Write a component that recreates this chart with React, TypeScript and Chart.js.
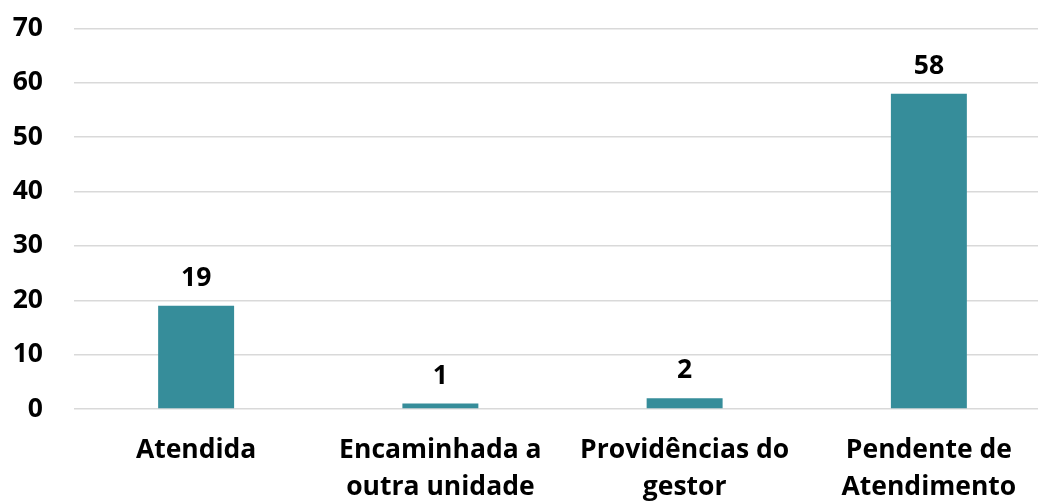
import React, { useEffect, useRef } from "react";
import { Chart, registerables } from "chart.js";

Chart.register(...registerables);

const categories: string[][] = [
  ["Atendida"],
  ["Encaminhada a", "outra unidade"],
  ["Providências do", "gestor"],
  ["Pendente de", "Atendimento"],
];
const values: number[] = [19, 1, 2, 58];
const yTicks: number[] = [0, 10, 20, 30, 40, 50, 60, 70];

const FONT = "'Open Sans', sans-serif";
const FSIZE = 26.5;
const BAR_COLOR = "#368D9A";

const valueLabels = {
  id: "valueLabels",
  afterDatasetsDraw(chart: any) {
    const ctx = chart.ctx;
    const meta = chart.getDatasetMeta(0);
    ctx.save();
    ctx.font = `bold ${FSIZE}px ${FONT}`;
    ctx.fillStyle = "#000000";
    ctx.textAlign = "center";
    ctx.textBaseline = "alphabetic";
    meta.data.forEach((bar: any, i: number) => {
      ctx.fillText(String(values[i]), bar.x, bar.y - 20);
    });
    ctx.restore();
  },
};

export default function App() {
  const ref = useRef<HTMLCanvasElement | null>(null);
  useEffect(() => {
    if (!ref.current) return;
    const chart = new Chart(ref.current, {
      type: "bar",
      data: {
        labels: categories,
        datasets: [
          {
            data: values,
            backgroundColor: BAR_COLOR,
            barPercentage: 0.311,
            categoryPercentage: 1,
          },
        ],
      },
      options: {
        animation: false,
        responsive: false,
        maintainAspectRatio: false,
        layout: { padding: { top: 28.5, left: 0, right: 1, bottom: 0 } },
        plugins: { legend: { display: false }, tooltip: { enabled: false } },
        scales: {
          x: {
            grid: { display: false, drawTicks: false },
            border: { display: false },
            ticks: {
              color: "#000000",
              font: { family: FONT, size: FSIZE, weight: "bold", lineHeight: 37 / FSIZE },
              padding: 23,
              maxRotation: 0,
              autoSkip: false,
            },
            afterFit(scale: any) {
              scale.height = 94;
              scale.paddingLeft = 0;
              scale.paddingRight = 0;
            },
          },
          y: {
            min: 0,
            max: 70,
            afterBuildTicks(scale: any) {
              scale.ticks = yTicks.map((v) => ({ value: v }));
            },
            grid: { color: "#D9D9D9", lineWidth: 1.5, drawTicks: false },
            border: { display: false },
            ticks: {
              color: "#000000",
              font: { family: FONT, size: FSIZE, weight: "bold" },
              padding: 31,
            },
            afterFit(scale: any) {
              scale.width = 74;
              scale.paddingTop = 0;
              scale.paddingBottom = 0;
            },
          },
        },
      },
      plugins: [valueLabels],
    });
    return () => chart.destroy();
  }, []);
  return (
    <div style={{ position: "fixed", left: 0, top: 0, width: 1052, height: 503, background: "#fff" }}>
      <canvas ref={ref} width={1052} height={503} style={{ width: 1052, height: 503, display: "block" }} />
    </div>
  );
}
